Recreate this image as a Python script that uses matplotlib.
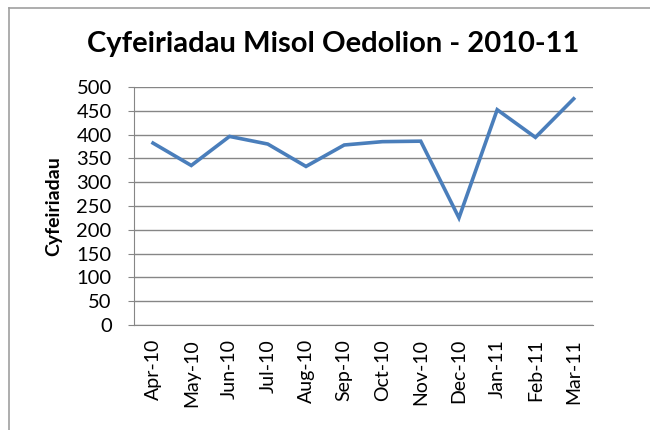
import matplotlib.pyplot as plt
from matplotlib.lines import Line2D

# monthly referrals, adults
months = ['Apr-10', 'May-10', 'Jun-10', 'Jul-10', 'Aug-10', 'Sep-10',
          'Oct-10', 'Nov-10', 'Dec-10', 'Jan-11', 'Feb-11', 'Mar-11']
referrals = [382, 335, 396, 380, 333, 378, 385, 386, 225, 452, 394, 475]
yticks = [0, 50, 100, 150, 200, 250, 300, 350, 400, 450, 500]

plt.rcParams['font.family'] = ['Lato', 'DejaVu Sans']

fig = plt.figure(figsize=(6.5, 4.3), dpi=100)
ax = fig.add_axes([0.206, 0.244, 0.706, 0.554])

x = list(range(len(months)))
ax.plot(x, referrals, color='#4A7EBB', linewidth=2.6, solid_joinstyle='miter')

ax.set_xlim(-0.5, len(months) - 0.5)
ax.set_ylim(0, 500)
ax.set_yticks(yticks)
ax.set_xticks(x)
ax.set_xticklabels(months, rotation=90, fontsize=14)
ax.tick_params(axis='y', labelsize=14.5, length=4, color='#868686', pad=12)
ax.tick_params(axis='x', length=0, pad=10)
ax.grid(axis='y', color='#868686', linewidth=1)
ax.set_axisbelow(True)
for s in ['top', 'right']:
    ax.spines[s].set_visible(False)
ax.spines['left'].set_color('#868686')
ax.spines['bottom'].set_color('#868686')

ax.set_ylabel('Cyfeiriadau', fontsize=14, fontweight='bold', labelpad=10)
fig.text(0.512, 1 - 52 / 430, 'Cyfeiriadau Misol Oedolion - 2010-11',
         ha='center', va='baseline', fontsize=21, fontweight='bold')

# chart border
fig.add_artist(Line2D([9 / 650, 9 / 650], [0, 1 - 8 / 430], color='#A0A0A0', linewidth=1.2))
fig.add_artist(Line2D([9 / 650, 1], [1 - 8 / 430, 1 - 8 / 430], color='#A0A0A0', linewidth=1.2))

fig.savefig('out.png', dpi=100)
